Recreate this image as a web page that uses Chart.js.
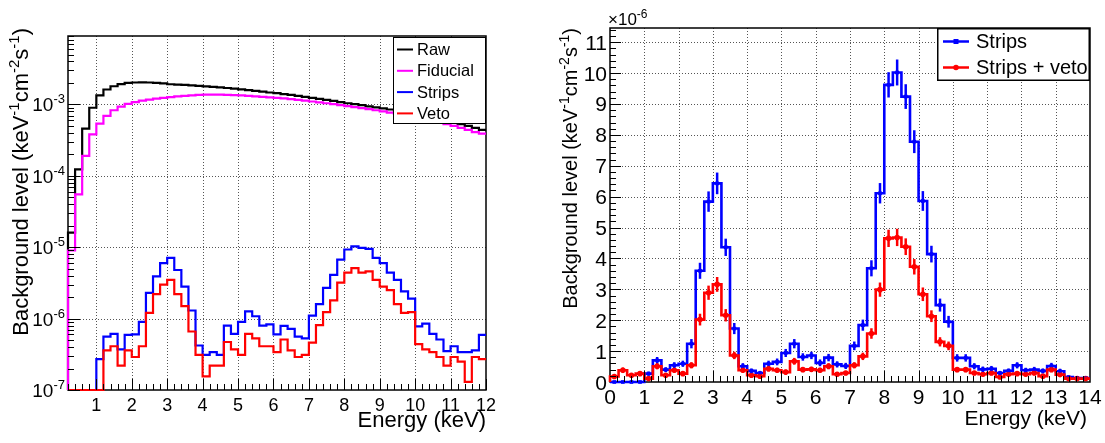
<!DOCTYPE html>
<html>
<head>
<meta charset="utf-8">
<script src="https://cdn.jsdelivr.net/npm/chart.js@4/dist/chart.umd.min.js"></script>
<style>
  body { margin: 0; background: #fff; }
  canvas { position: absolute; top: 0; }
</style>
</head>
<body>
<canvas id="leftChart" width="552" height="443" style="left:0"></canvas>
<canvas id="rightChart" width="553" height="443" style="left:552px"></canvas>
<script>
// left panel: log scale, bins of 0.2 keV starting at 0.2 keV
var leftLow = 0.2, leftWidth = 0.2;
var rawLevel = [
  1.6e-5, 1.23e-4, 4.6e-4, 9.0e-4, 1.34e-3, 1.62e-3, 1.80e-3, 1.93e-3, 2.00e-3, 2.03e-3,
  2.04e-3, 2.03e-3, 2.01e-3, 1.97e-3, 1.92e-3, 1.90e-3, 1.88e-3, 1.85e-3, 1.82e-3, 1.79e-3,
  1.76e-3, 1.73e-3, 1.70e-3, 1.67e-3, 1.63e-3, 1.59e-3, 1.55e-3, 1.51e-3, 1.47e-3, 1.44e-3,
  1.40e-3, 1.36e-3, 1.32e-3, 1.28e-3, 1.24e-3, 1.20e-3, 1.16e-3, 1.12e-3, 1.08e-3, 1.04e-3,
  1.01e-3, 9.8e-4, 9.4e-4, 9.1e-4, 8.8e-4, 8.5e-4, 8.2e-4, 7.9e-4, 7.6e-4, 7.3e-4,
  6.9e-4, 6.6e-4, 6.2e-4, 5.9e-4, 5.6e-4, 5.3e-4, 5.0e-4, 4.7e-4, 4.4e-4
];
var fiducialLevel = [
  9e-6, 5.5e-5, 1.9e-4, 3.8e-4, 5.4e-4, 6.9e-4, 8.3e-4, 9.3e-4, 1.02e-3, 1.08e-3,
  1.13e-3, 1.17e-3, 1.21e-3, 1.24e-3, 1.27e-3, 1.30e-3, 1.32e-3, 1.34e-3, 1.36e-3, 1.37e-3,
  1.37e-3, 1.37e-3, 1.36e-3, 1.35e-3, 1.34e-3, 1.32e-3, 1.30e-3, 1.28e-3, 1.26e-3, 1.24e-3,
  1.22e-3, 1.19e-3, 1.16e-3, 1.13e-3, 1.10e-3, 1.07e-3, 1.04e-3, 1.01e-3, 9.8e-4, 9.5e-4,
  9.2e-4, 8.9e-4, 8.6e-4, 8.3e-4, 8.0e-4, 7.7e-4, 7.4e-4, 7.1e-4, 6.8e-4, 6.5e-4,
  6.2e-4, 5.9e-4, 5.6e-4, 5.3e-4, 5.0e-4, 4.7e-4, 4.4e-4, 4.1e-4, 3.9e-4
];
var stripsLevel = [
  0, 0, 0, 0, 2.7e-7, 5.6e-7, 6.1e-7, 3.7e-7, 5.9e-7, 6.0e-7,
  9.0e-7, 2.3e-6, 3.9e-6, 6.0e-6, 7.1e-6, 4.8e-6, 2.8e-6, 1.3e-6, 4.2e-7, 3.1e-7,
  3.4e-7, 3.1e-7, 8.0e-7, 6.1e-7, 9.0e-7, 1.26e-6, 1.08e-6, 8.0e-7, 8.3e-7, 6.0e-7,
  7.9e-7, 7.2e-7, 5.6e-7, 5.3e-7, 1.1e-6, 1.6e-6, 2.7e-6, 4.1e-6, 6.7e-6, 9.3e-6,
  1.03e-5, 9.8e-6, 9.5e-6, 7.1e-6, 6.0e-6, 4.4e-6, 3.5e-6, 2.4e-6, 1.9e-6, 7.8e-7,
  8.5e-7, 6.1e-7, 5.1e-7, 3.5e-7, 4.1e-7, 3.4e-7, 3.4e-7, 3.6e-7, 5.9e-7
];
var vetoLevel = [
  0, 0, 0, 0, 0, 3.6e-7, 4.1e-7, 2.2e-7, 3.6e-7, 2.9e-7,
  4.1e-7, 1.2e-6, 2.2e-6, 3.0e-6, 3.5e-6, 2.2e-6, 1.5e-6, 6.6e-7, 3.1e-7, 1.55e-7,
  2.2e-7, 2.2e-7, 4.7e-7, 3.7e-7, 3.1e-7, 6.1e-7, 5.3e-7, 4.1e-7, 4.1e-7, 3.4e-7,
  5.1e-7, 3.6e-7, 2.9e-7, 3.1e-7, 4.6e-7, 8.1e-7, 1.23e-6, 1.8e-6, 3.2e-6, 4.4e-6,
  5.1e-6, 4.4e-6, 4.6e-6, 3.5e-6, 2.8e-6, 2.5e-6, 1.6e-6, 1.2e-6, 1.23e-6, 4.4e-7,
  3.7e-7, 3.4e-7, 2.9e-7, 2.2e-7, 2.9e-7, 2.5e-7, 1.3e-7, 2.9e-7, 2.7e-7
];
var leftXTicks = [1, 2, 3, 4, 5, 6, 7, 8, 9, 10, 11, 12];
var leftYExp = [-7, -6, -5, -4, -3];
var leftYMin = 1e-7, leftYMax = 9.1e-3;

// right panel: linear, bins of 0.25 keV, values in units of 1e-6
var rightLow = 0, rightWidth = 0.25;
var stripsRate = [
  0, 0, 0, 0, 0.27, 0.70, 0.40, 0.54, 0.59, 1.24, 3.60, 5.84, 6.43, 4.36,
  1.73, 0.51, 0.36, 0.29, 0.59, 0.65, 0.94, 1.24, 0.81, 0.86, 0.62, 0.79, 0.57, 0.52,
  1.17, 1.84, 3.68, 6.11, 9.62, 10.02, 9.24, 7.78, 5.86, 4.14, 2.49, 1.95, 0.78, 0.78,
  0.51, 0.41, 0.43, 0.29, 0.36, 0.54, 0.38, 0.40, 0.36, 0.52, 0.35, 0.16, 0.13, 0.13
];
var stripsErr = [
  0, 0, 0, 0, 0.07, 0.11, 0.08, 0.10, 0.10, 0.15, 0.26, 0.33, 0.35, 0.28,
  0.18, 0.10, 0.08, 0.07, 0.10, 0.11, 0.13, 0.15, 0.12, 0.12, 0.11, 0.12, 0.10, 0.10,
  0.14, 0.18, 0.26, 0.33, 0.41, 0.42, 0.40, 0.37, 0.32, 0.27, 0.21, 0.19, 0.12, 0.12,
  0.10, 0.09, 0.09, 0.07, 0.08, 0.10, 0.08, 0.09, 0.08, 0.10, 0.08, 0.05, 0.05, 0.05
];
var vetoRate = [
  0.18, 0.38, 0.22, 0.27, 0.11, 0.51, 0.22, 0.38, 0.27, 0.54, 2.02, 2.89, 3.16, 2.16,
  0.86, 0.38, 0.22, 0.19, 0.43, 0.38, 0.32, 0.67, 0.40, 0.41, 0.38, 0.51, 0.25, 0.29,
  0.54, 0.83, 1.57, 2.99, 4.65, 4.68, 4.38, 3.73, 2.84, 2.13, 1.30, 1.17, 0.40, 0.40,
  0.29, 0.25, 0.29, 0.16, 0.25, 0.27, 0.25, 0.29, 0.19, 0.40, 0.24, 0.11, 0.11, 0.11
];
var vetoErr = [
  0.06, 0.09, 0.06, 0.07, 0.05, 0.10, 0.06, 0.08, 0.07, 0.10, 0.19, 0.23, 0.24, 0.20,
  0.12, 0.08, 0.06, 0.06, 0.09, 0.08, 0.08, 0.11, 0.08, 0.08, 0.08, 0.10, 0.07, 0.07,
  0.10, 0.12, 0.17, 0.23, 0.28, 0.28, 0.27, 0.25, 0.22, 0.19, 0.15, 0.14, 0.08, 0.08,
  0.07, 0.07, 0.07, 0.05, 0.07, 0.07, 0.07, 0.07, 0.06, 0.08, 0.06, 0.05, 0.05, 0.05
];
var rightXTicks = [0, 1, 2, 3, 4, 5, 6, 7, 8, 9, 10, 11, 12, 13, 14];
var rightYTicks = [0, 1, 2, 3, 4, 5, 6, 7, 8, 9, 10, 11];
var rightYMax = 11.46;

var FONT = '"Liberation Sans", Arial, sans-serif';
var titleParts = [['Background level (keV', 0], ['-1', 1], ['cm', 0], ['-2', 1], ['s', 0], ['-1', 1], [')', 0]];

// histogram as step line: rises from the base at the first edge,
// one point per lower edge, plus the last upper edge
function histPoints(low, width, values, base) {
  var pts = [{ x: low, y: base }];
  values.forEach(function(v, i) {
    pts.push({ x: low + i * width, y: Math.max(v, base) });
  });
  pts.push({ x: low + values.length * width, y: pts[pts.length - 1].y });
  return pts;
}
function centerPoints(low, width, values) {
  return values.map(function(v, i) { return { x: low + (i + 0.5) * width, y: v }; });
}

// text with superscripts
function richText(ctx, parts, x, y, size, supSize, align) {
  var w = 0;
  parts.forEach(function(p) {
    ctx.font = (p[1] ? supSize : size) + 'px ' + FONT;
    w += ctx.measureText(p[0]).width;
  });
  var cx = align === 'right' ? x - w : (align === 'center' ? x - w / 2 : x);
  ctx.textAlign = 'left';
  ctx.textBaseline = 'alphabetic';
  parts.forEach(function(p) {
    ctx.font = (p[1] ? supSize : size) + 'px ' + FONT;
    ctx.fillText(p[0], cx, p[1] ? y - size * 0.42 : y);
    cx += ctx.measureText(p[0]).width;
  });
}

function vTitle(ctx, x, top, size, supSize) {
  ctx.save();
  ctx.translate(x, top);
  ctx.rotate(-Math.PI / 2);
  ctx.fillStyle = '#000';
  richText(ctx, titleParts, 0, 0, size, supSize, 'right');
  ctx.restore();
}

function dottedGrid(chart, xs, ys) {
  var ctx = chart.ctx, a = chart.chartArea;
  var sx = chart.scales.x, sy = chart.scales.y;
  ctx.save();
  ctx.strokeStyle = '#555';
  ctx.lineWidth = 1;
  ctx.setLineDash([1, 2]);
  xs.forEach(function(v) {
    var px = Math.round(sx.getPixelForValue(v)) + 0.5;
    ctx.beginPath(); ctx.moveTo(px, a.top); ctx.lineTo(px, a.bottom); ctx.stroke();
  });
  ys.forEach(function(v) {
    var py = Math.round(sy.getPixelForValue(v)) + 0.5;
    ctx.beginPath(); ctx.moveTo(a.left, py); ctx.lineTo(a.right, py); ctx.stroke();
  });
  ctx.restore();
}

function tick(ctx, x1, y1, x2, y2) {
  ctx.beginPath(); ctx.moveTo(x1, y1); ctx.lineTo(x2, y2); ctx.stroke();
}

function frame(ctx, a) {
  ctx.save();
  ctx.strokeStyle = '#000';
  ctx.lineWidth = 1.5;
  ctx.strokeRect(a.left, a.top, a.right - a.left, a.bottom - a.top);
  ctx.restore();
}

var leftDecoration = {
  id: 'leftDecoration',
  beforeDatasetsDraw: function(chart) {
    var ys = leftYExp.slice(1).map(function(e) { return Math.pow(10, e); });
    dottedGrid(chart, leftXTicks.slice(0, -1), ys);
    frame(chart.ctx, chart.chartArea);
  },
  afterDatasetsDraw: function(chart) {
    var ctx = chart.ctx, a = chart.chartArea;
    var sx = chart.scales.x, sy = chart.scales.y;
    ctx.save();
    ctx.strokeStyle = '#000';
    ctx.lineWidth = 1;
    // x ticks every 0.2 keV
    for (var k = 1; k <= 60; k++) {
      var px = Math.round(sx.getPixelForValue(k * 0.2)) + 0.5;
      tick(ctx, px, a.bottom, px, a.bottom - (k % 5 === 0 ? 11 : 6));
    }
    // log y ticks
    leftYExp.concat([-2]).forEach(function(e) {
      for (var m = 1; m <= 9; m++) {
        var val = m * Math.pow(10, e);
        if (val > leftYMax) break;
        var py = Math.round(sy.getPixelForValue(val)) + 0.5;
        tick(ctx, a.left, py, a.left + (m === 1 ? 12 : 6), py);
      }
    });
    ctx.fillStyle = '#000';
    ctx.font = '18px ' + FONT;
    ctx.textAlign = 'center';
    ctx.textBaseline = 'alphabetic';
    leftXTicks.forEach(function(t) {
      ctx.fillText(String(t), sx.getPixelForValue(t), 411);
    });
    leftYExp.forEach(function(e) {
      var py = sy.getPixelForValue(Math.pow(10, e));
      richText(ctx, [['10', 0], [String(e), 1]], 65, py + 7, 19, 13, 'right');
    });
    richText(ctx, [['Energy (keV)', 0]], 486, 427, 22, 15, 'right');
    vTitle(ctx, 28, 28, 22, 15);

    // legend
    var lx = 393, ly = 37, lw = 93, lh = 87;
    ctx.fillStyle = '#fff';
    ctx.fillRect(lx, ly, lw, lh);
    ctx.strokeStyle = '#000';
    ctx.lineWidth = 1;
    ctx.strokeRect(lx + 0.5, ly + 0.5, lw - 1, lh - 1);
    var rows = chart.data.datasets.filter(function(d) { return d.legendLabel; });
    rows.forEach(function(d, i) {
      var y = 49.5 + i * 21.3;
      ctx.strokeStyle = d.borderColor;
      ctx.lineWidth = 2;
      tick(ctx, 397, y, 413, y);
      ctx.fillStyle = '#000';
      ctx.font = '16.5px ' + FONT;
      ctx.textAlign = 'left';
      ctx.textBaseline = 'middle';
      ctx.fillText(d.legendLabel, 417, y + 1);
    });
    ctx.restore();
  }
};

var rightDecoration = {
  id: 'rightDecoration',
  beforeDatasetsDraw: function(chart) {
    dottedGrid(chart, rightXTicks.slice(1, -1), rightYTicks.slice(1));
    frame(chart.ctx, chart.chartArea);
  },
  afterDatasetsDraw: function(chart) {
    var ctx = chart.ctx, a = chart.chartArea;
    var sx = chart.scales.x, sy = chart.scales.y;
    ctx.save();
    ctx.strokeStyle = '#000';
    ctx.lineWidth = 1;
    for (var k = 1; k < 70; k++) {
      var px = Math.round(sx.getPixelForValue(k * 0.2)) + 0.5;
      tick(ctx, px, a.bottom, px, a.bottom - (k % 5 === 0 ? 11 : 6));
    }
    for (var j = 1; j <= 57; j++) {
      var val = j * 0.2;
      if (val > rightYMax) break;
      var py = Math.round(sy.getPixelForValue(val)) + 0.5;
      tick(ctx, a.left, py, a.left + (j % 5 === 0 ? 11 : 6), py);
    }
    ctx.fillStyle = '#000';
    ctx.font = '21px ' + FONT;
    ctx.textAlign = 'center';
    ctx.textBaseline = 'alphabetic';
    rightXTicks.forEach(function(t) {
      ctx.fillText(String(t), sx.getPixelForValue(t), 404);
    });
    ctx.textAlign = 'right';
    rightYTicks.forEach(function(t) {
      ctx.fillText(String(t), 55, sy.getPixelForValue(t) + 7.5);
    });
    richText(ctx, [['\u00d710', 0], ['-6', 1]], 56, 25, 17, 12, 'left');
    richText(ctx, [['Energy (keV)', 0]], 535, 425, 21, 14, 'right');
    vTitle(ctx, 25, 28, 20, 14);

    // legend
    var lx = 385, ly = 28, lw = 153, lh = 53;
    ctx.fillStyle = '#fff';
    ctx.fillRect(lx, ly, lw, lh);
    ctx.strokeStyle = '#000';
    ctx.lineWidth = 1.5;
    ctx.strokeRect(lx + 0.75, ly + 0.75, lw - 1.5, lh - 1.5);
    var rows = chart.data.datasets.filter(function(d) { return d.legendLabel; });
    rows.forEach(function(d, i) {
      var y = 41.5 + i * 26;
      ctx.strokeStyle = d.borderColor;
      ctx.fillStyle = d.borderColor;
      ctx.lineWidth = 2.5;
      tick(ctx, 391, y, 417, y);
      if (d.markerStyle === 'rect') ctx.fillRect(401.5, y - 2.5, 5, 5);
      else { ctx.beginPath(); ctx.arc(404, y, 2.8, 0, Math.PI * 2); ctx.fill(); }
      ctx.fillStyle = '#000';
      ctx.font = '20px ' + FONT;
      ctx.textAlign = 'left';
      ctx.textBaseline = 'middle';
      ctx.fillText(d.legendLabel, 424, y + 1);
    });
    ctx.restore();
  }
};

// vertical error bars on the right panel
var errorBars = {
  id: 'errorBars',
  afterDatasetsDraw: function(chart) {
    var ctx = chart.ctx, sx = chart.scales.x, sy = chart.scales.y;
    var sets = [[stripsRate, stripsErr, '#0000ff'], [vetoRate, vetoErr, '#ff0000']];
    ctx.save();
    ctx.lineWidth = 2.5;
    sets.forEach(function(s) {
      ctx.strokeStyle = s[2];
      s[0].forEach(function(v, i) {
        if (!s[1][i]) return;
        var px = sx.getPixelForValue(rightLow + (i + 0.5) * rightWidth);
        tick(ctx, px, sy.getPixelForValue(Math.max(0, v - s[1][i])), px, sy.getPixelForValue(v + s[1][i]));
      });
    });
    ctx.restore();
  }
};

function stepSet(label, color, pts, order, width) {
  return {
    legendLabel: label, data: pts, borderColor: color, borderWidth: width,
    stepped: 'before', pointRadius: 0, fill: false, order: order, clip: 4
  };
}

function sizeX(h) { return function(s) { s.height = h; }; }
function sizeY(w) { return function(s) { s.width = w; }; }
var hiddenAxis = { ticks: { display: false }, grid: { display: false }, border: { display: false } };

new Chart(document.getElementById('leftChart'), {
  type: 'line',
  data: {
    datasets: [
      stepSet('Raw', '#000000', histPoints(leftLow, leftWidth, rawLevel, leftYMin), 4, 2.2),
      stepSet('Fiducial', '#ff00ff', histPoints(leftLow, leftWidth, fiducialLevel, leftYMin), 3, 2.2),
      stepSet('Strips', '#0000ff', histPoints(leftLow, leftWidth, stripsLevel, leftYMin), 2, 2.2),
      stepSet('Veto', '#ff0000', histPoints(leftLow, leftWidth, vetoLevel, leftYMin), 1, 2.2)
    ]
  },
  options: {
    responsive: false, animation: false, devicePixelRatio: 1, events: [],
    layout: { padding: { left: 0, top: 36, right: 66, bottom: 0 } },
    plugins: { legend: { display: false }, tooltip: { enabled: false } },
    scales: {
      x: Object.assign({ type: 'linear', min: 0.2, max: 12, afterFit: sizeX(53) }, hiddenAxis),
      y: Object.assign({ type: 'logarithmic', min: leftYMin, max: leftYMax, afterFit: sizeY(68) }, hiddenAxis)
    }
  },
  plugins: [leftDecoration]
});

new Chart(document.getElementById('rightChart'), {
  type: 'line',
  data: {
    datasets: [
      Object.assign(stepSet('Strips', '#0000ff', histPoints(rightLow, rightWidth, stripsRate, 0), 4, 2.6), { markerStyle: 'rect' }),
      Object.assign(stepSet('Strips + veto', '#ff0000', histPoints(rightLow, rightWidth, vetoRate, 0), 2, 2.6), { markerStyle: 'circle' }),
      { data: centerPoints(rightLow, rightWidth, stripsRate), showLine: false, pointStyle: 'rect', clip: 4,
        pointRadius: 2.6, pointBackgroundColor: '#0000ff', pointBorderWidth: 0, order: 3 },
      { data: centerPoints(rightLow, rightWidth, vetoRate), showLine: false, pointStyle: 'circle', clip: 4,
        pointRadius: 2.8, pointBackgroundColor: '#ff0000', pointBorderWidth: 0, order: 1 }
    ]
  },
  options: {
    responsive: false, animation: false, devicePixelRatio: 1, events: [],
    layout: { padding: { left: 0, top: 28, right: 15, bottom: 0 } },
    plugins: { legend: { display: false }, tooltip: { enabled: false } },
    scales: {
      x: Object.assign({ type: 'linear', min: 0, max: 14, afterFit: sizeX(61) }, hiddenAxis),
      y: Object.assign({ type: 'linear', min: 0, max: rightYMax, afterFit: sizeY(58) }, hiddenAxis)
    }
  },
  plugins: [errorBars, rightDecoration]
});
</script>
</body>
</html>
